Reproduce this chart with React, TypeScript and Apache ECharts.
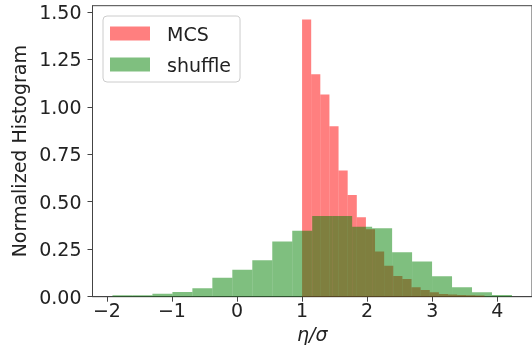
import React, { useEffect, useRef } from "react";
import * as echarts from "echarts";

// Histogram bins (normalized densities)
const mcsStart = 1.0;
const mcsBinWidth = 0.1402;
const mcsHeights = [
  1.459, 1.171, 1.065, 0.897, 0.665, 0.536, 0.418, 0.355, 0.238, 0.163,
  0.109, 0.093, 0.05, 0.035, 0.023, 0.014, 0.011, 0.009, 0.007, 0.006,
];

const shuffleStart = -1.914;
const shuffleBinWidth = 0.307;
const shuffleHeights = [
  0.007, 0.007, 0.016, 0.025, 0.044, 0.1, 0.142, 0.192, 0.29, 0.347,
  0.425, 0.425, 0.368, 0.36, 0.234, 0.185, 0.108, 0.05, 0.023, 0.009,
];

const xTicks = [-2, -1, 0, 1, 2, 3, 4];
const yTicks = [0, 0.25, 0.5, 0.75, 1.0, 1.25, 1.5];

const seriesNames = ["MCS", "shuffle"];
const xAxisTitle = "η/σ";
const yAxisTitle = "Normalized Histogram";

const FONT = "DejaVu Sans";
const FS = 19;
const TEXT = "#222222";
const SPINE = "#444444";

function toBins(start: number, w: number, hs: number[]) {
  return hs.map((h, i) => [start + i * w, start + (i + 1) * w, h]);
}

export default function App() {
  const ref = useRef<HTMLDivElement>(null);
  useEffect(() => {
    if (!ref.current) return;
    const chart = echarts.init(ref.current, null, { renderer: "svg" });
    const rectRender = (color: string) => (params: any, api: any) => {
      const x0 = api.value(0);
      const x1 = api.value(1);
      const h = api.value(2);
      const p0 = api.coord([x0, 0]);
      const p1 = api.coord([x1, h]);
      return {
        type: "rect",
        shape: { x: p0[0], y: p1[1], width: p1[0] - p0[0], height: p0[1] - p1[1] },
        style: { fill: color },
      };
    };
    const red = "rgba(255,0,0,0.5)";
    const green = "rgba(0,128,0,0.5)";
    chart.setOption({
      animation: false,
      grid: {
        left: 92.5,
        top: 5.7,
        width: 446,
        height: 291,
        show: true,
        borderColor: SPINE,
        borderWidth: 1,
        backgroundColor: "transparent",
      },
      legend: {
        left: 103,
        top: 16,
        orient: "vertical",
        itemWidth: 40,
        itemHeight: 14,
        itemGap: 12,
        icon: "rect",
        padding: [8, 9, 8, 7],
        backgroundColor: "rgba(255,255,255,0.8)",
        borderColor: "#cccccc",
        borderWidth: 1,
        borderRadius: 4,
        textStyle: {
          fontFamily: FONT,
          fontSize: FS,
          color: TEXT,
          lineHeight: 14,
          padding: [0, 0, 0, 12],
        },
        data: seriesNames,
      },
      xAxis: {
        type: "value",
        min: -2.221,
        max: 4.534,
        name: xAxisTitle,
        nameLocation: "middle",
        nameGap: 19,
        nameTextStyle: { fontFamily: FONT, fontSize: FS, fontStyle: "italic", color: TEXT },
        axisLine: { onZero: false, lineStyle: { color: SPINE, width: 1 } },
        axisTick: { show: true, length: 5, lineStyle: { color: SPINE }, customValues: xTicks },
        axisLabel: {
          customValues: xTicks,
          fontFamily: FONT,
          fontSize: FS,
          color: TEXT,
          margin: 4,
          formatter: (v: number) => String(v).replace("-", "\u2212"),
        },
        splitLine: { show: false },
      },
      yAxis: {
        type: "value",
        min: 0,
        max: 1.532,
        name: yAxisTitle,
        nameLocation: "middle",
        nameGap: 62,
        nameTextStyle: { fontFamily: FONT, fontSize: FS, color: TEXT },
        axisLine: { show: true, onZero: false, lineStyle: { color: SPINE, width: 1 } },
        axisTick: { show: true, length: 5, lineStyle: { color: SPINE }, customValues: yTicks },
        axisLabel: {
          customValues: yTicks,
          fontFamily: FONT,
          fontSize: FS,
          color: TEXT,
          margin: 11,
          formatter: (v: number) => v.toFixed(2),
        },
        splitLine: { show: false },
      },
      series: [
        {
          name: seriesNames[0],
          type: "custom",
          renderItem: rectRender(red),
          itemStyle: { color: red },
          encode: { x: [0, 1], y: 2 },
          data: toBins(mcsStart, mcsBinWidth, mcsHeights),
          clip: true,
        },
        {
          name: seriesNames[1],
          type: "custom",
          renderItem: rectRender(green),
          itemStyle: { color: green },
          encode: { x: [0, 1], y: 2 },
          data: toBins(shuffleStart, shuffleBinWidth, shuffleHeights),
          clip: true,
        },
      ],
    });
    return () => chart.dispose();
  }, []);
  return (
    <div
      ref={ref}
      style={{ position: "fixed", left: 0, top: 0, width: 532, height: 358 }}
    />
  );
}
